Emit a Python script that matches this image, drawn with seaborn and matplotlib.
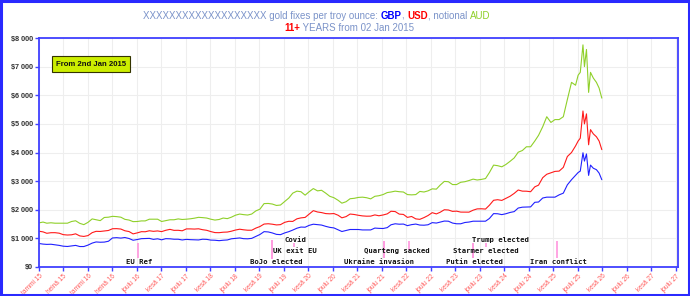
import numpy as np
import pandas as pd
import matplotlib
matplotlib.use("Agg")
import matplotlib.pyplot as plt
from matplotlib.patches import Rectangle
from matplotlib.ticker import FuncFormatter
import seaborn as sns

# monthly values (1st of each month), Jan 2015 .. Dec 2025
usd_monthly = [
    1250, 1227, 1178, 1198, 1199, 1181, 1130, 1117, 1125, 1159, 1086, 1068,
    1097, 1200, 1246, 1242, 1260, 1276, 1337, 1340, 1326, 1266, 1238, 1157,
    1192, 1234, 1231, 1266, 1246, 1260, 1236, 1283, 1315, 1280, 1282, 1265,
    1331, 1331, 1325, 1335, 1303, 1282, 1238, 1202, 1199, 1215, 1221, 1250,
    1292, 1320, 1300, 1285, 1284, 1359, 1413, 1500, 1511, 1495, 1470, 1480,
    1560, 1597, 1592, 1683, 1716, 1732, 1846, 1968, 1922, 1901, 1866, 1858,
    1867, 1808, 1718, 1760, 1850, 1834, 1807, 1785, 1775, 1777, 1820, 1790,
    1817, 1856, 1947, 1937, 1848, 1837, 1733, 1765, 1681, 1665, 1726, 1798,
    1898, 1855, 1912, 2000, 1992, 1943, 1951, 1918, 1916, 1916, 1985, 2030,
    2034, 2024, 2158, 2331, 2351, 2326, 2398, 2470, 2571, 2690, 2650, 2648,
    2630, 2800, 2860, 3120, 3240, 3290, 3340, 3350, 3480, 3860, 4000, 4230,
]
gbp_monthly = [
    822, 800, 790, 795, 775, 755, 727, 717, 735, 755, 715, 715,
    765, 835, 875, 865, 870, 900, 1015, 1025, 1010, 1030, 995, 935,
    960, 990, 995, 1000, 965, 985, 950, 990, 985, 970, 970, 945,
    965, 955, 950, 945, 970, 965, 940, 935, 920, 935, 945, 985,
    1000, 1015, 990, 985, 1000, 1070, 1135, 1235, 1225, 1190, 1140, 1130,
    1190, 1235, 1290, 1355, 1395, 1390, 1455, 1495, 1480, 1465, 1420, 1385,
    1365, 1300, 1240, 1275, 1310, 1310, 1310, 1295, 1295, 1295, 1360, 1350,
    1345, 1375, 1475, 1510, 1495, 1500, 1445, 1480, 1500, 1465, 1460, 1475,
    1550, 1535, 1570, 1605, 1600, 1535, 1510, 1510, 1555, 1570, 1600, 1600,
    1600, 1600, 1695, 1865, 1860, 1830, 1860, 1905, 1935, 2060, 2090, 2095,
    2100, 2260, 2270, 2410, 2440, 2440, 2440, 2520, 2580, 2870, 3050, 3200,
]
aud_monthly = [
    1540, 1570, 1530, 1545, 1530, 1530, 1530, 1530, 1590, 1615, 1525, 1480,
    1560, 1680, 1650, 1620, 1730, 1740, 1770, 1760, 1740, 1665, 1640, 1585,
    1590, 1610, 1610, 1670, 1670, 1670, 1590, 1620, 1650, 1650, 1680, 1660,
    1670, 1685, 1705, 1735, 1725, 1710, 1670, 1640, 1660, 1710, 1690, 1740,
    1810, 1850, 1830, 1815, 1850, 1960, 2020, 2215, 2220, 2200, 2150, 2165,
    2290, 2410, 2580, 2650, 2630, 2510, 2630, 2740, 2660, 2680, 2580, 2470,
    2420, 2330, 2230, 2280, 2385, 2400, 2430, 2440, 2420, 2380, 2470, 2490,
    2530, 2600, 2620, 2650, 2630, 2620, 2530, 2520, 2530, 2640, 2620, 2660,
    2730, 2720, 2860, 2990, 2980, 2880, 2880, 2960, 2980, 3020, 3070, 3040,
    3060, 3090, 3300, 3560, 3540, 3500, 3580, 3690, 3810, 4010, 4070, 4200,
    4200, 4400, 4600, 4900, 5250, 5050, 5150, 5150, 5250, 5850, 6450, 6350,
]

# finer points for the last stretch
late_dates = ['2025-12-20', '2026-01-05', '2026-01-25', '2026-02-05', '2026-02-20',
              '2026-03-08', '2026-03-22', '2026-04-12', '2026-05-05', '2026-05-25',
              '2026-06-14']
usd_late = [4400, 4500, 5450, 5000, 5350, 4270, 4800, 4650, 4550, 4400, 4100]
gbp_late = [3300, 3350, 3990, 3700, 3950, 3200, 3560, 3450, 3400, 3280, 3050]
aud_late = [6700, 6800, 7760, 7000, 7600, 6100, 6800, 6600, 6450, 6250, 5900]

# events: marker date, marker y-range, label, label date, label row
events = [
    ('2017-01-06', 315, 840, 'EU Ref', '2016-10-12', 0),
    ('2019-09-28', 280, 945, 'BoJo elected', '2019-04-18', 0),
    ('2019-09-28', 280, 945, 'UK exit EU', '2019-10-05', 1),
    ('2020-03-09', 700, 840, 'Covid', '2019-12-31', 2),
    ('2022-01-07', 315, 910, 'Ukraine invasion', '2021-03-20', 0),
    ('2022-01-07', 315, 910, 'Quarteng sacked', '2021-08-10', 1),
    ('2022-07-11', 595, 910, '', '2022-07-11', 1),
    ('2023-10-29', 315, 840, 'Putin elected', '2023-04-10', 0),
    ('2023-10-29', 315, 840, 'Starmer elected', '2023-06-03', 1),
    ('2024-02-02', 700, 840, 'Trump elected', '2023-10-22', 2),
    ('2025-07-17', 315, 910, 'Iran conflict', '2024-12-27', 0),
]
label_y = [165, 550, 950]

fi_months = ['tammi', 'helmi', 'maalis', 'huhti', 'touko', 'kesä',
             'heinä', 'elo', 'syys', 'loka', 'marras', 'joulu']

month_dates = pd.date_range('2015-01-01', periods=len(usd_monthly), freq='MS')
dates = list(month_dates) + list(pd.to_datetime(late_dates))
n = len(dates)
df = pd.DataFrame({
    'date': dates * 3,
    'price': gbp_monthly + gbp_late + usd_monthly + usd_late + aud_monthly + aud_late,
    'series': ['GBP'] * n + ['USD'] * n + ['AUD'] * n,
})

sns.set_style('white')
plt.rcParams['font.family'] = ['Liberation Sans', 'DejaVu Sans']

fig = plt.figure(figsize=(6.9, 2.96), dpi=100)
ax = fig.add_axes([39 / 690, 1 - 267 / 296, (678 - 39) / 690, (267 - 38) / 296])

sns.lineplot(data=df, x='date', y='price', hue='series', estimator=None,
             palette={'GBP': '#2020ff', 'USD': '#ff1a1a', 'AUD': '#8fd02a'},
             linewidth=0.8, legend=False, ax=ax)

ax.set_ylim(0, 8000)
ax.set_xlim(pd.Timestamp('2015-01-02'), pd.Timestamp('2028-01-01'))
ax.set_xlabel('')
ax.set_ylabel('')

tick_dates = [pd.Timestamp('2015-01-02') + pd.Timedelta(days=182 * k) for k in range(27)]
ax.set_xticks(tick_dates)
ax.set_xticklabels([f"{fi_months[d.month - 1]} {d.strftime('%y')}" for d in tick_dates],
                   rotation=45, ha='right', rotation_mode='anchor',
                   fontsize=4.7, color='#ff5a5a')
ax.set_yticks(range(0, 8001, 1000))
ax.yaxis.set_major_formatter(FuncFormatter(lambda v, p: '$' + f'{int(v):,}'.replace(',', ' ')))
for lab in ax.get_yticklabels():
    lab.set_fontsize(5.2)
    lab.set_fontweight('bold')
    lab.set_color('#333333')

ax.tick_params(axis='both', which='major', length=3, width=1, color='#4040ff',
               bottom=True, left=True, pad=1.2)
ax.grid(True, color='#eeeeee', linewidth=0.8)
ax.set_axisbelow(True)
for s in ax.spines.values():
    s.set_color('#4040ff')
    s.set_linewidth(1.3)

# event markers and labels
for d, y0, y1, label, ld, lvl in events:
    ax.vlines(pd.Timestamp(d), y0, y1, color='#ff9ee0', linewidth=1.3)
    if label:
        ax.text(pd.Timestamp(ld), label_y[lvl], label, fontsize=5.2, fontweight='bold',
                family='DejaVu Sans Mono', color='#111111', va='center', ha='left')

# title in coloured pieces
grey = '#7b93c9'
parts1 = [('XXXXXXXXXXXXXXXXXXX gold fixes per troy ounce: ', grey, 'normal'),
          ('GBP', '#0000ff', 'bold'), (', ', grey, 'normal'),
          ('USD', '#ff0000', 'bold'), (', notional ', grey, 'normal'),
          ('AUD', '#8fd02a', 'normal')]
parts2 = [('11+', '#ff0000', 'bold'), (' YEARS from 02 Jan 2015', grey, 'normal')]


def chain(parts, x, y):
    prev = ax.annotate(parts[0][0], xy=(x, y), xycoords='figure fraction',
                       color=parts[0][1], fontweight=parts[0][2], fontsize=7,
                       va='baseline', ha='left', annotation_clip=False)
    for txt, col, w in parts[1:]:
        prev = ax.annotate(txt, xy=(1, 0), xycoords=prev, color=col, fontweight=w,
                           fontsize=7, va='bottom', ha='left', annotation_clip=False)


chain(parts1, 143 / 690, 1 - 19 / 296)
chain(parts2, 284 / 690, 1 - 31 / 296)

fig.text(91 / 690, 1 - 64 / 296, 'From 2nd Jan 2015', fontsize=5.6, fontweight='bold',
         ha='center', va='center', color='#111111',
         bbox=dict(boxstyle='square,pad=0.55', facecolor='#ccee00', edgecolor='#333300',
                   linewidth=0.8))

fig.add_artist(Rectangle((0.002, 0.005), 0.996, 0.99, transform=fig.transFigure,
                         fill=False, edgecolor='#2a2aff', linewidth=2.2))

fig.savefig('out.png', dpi=100)
